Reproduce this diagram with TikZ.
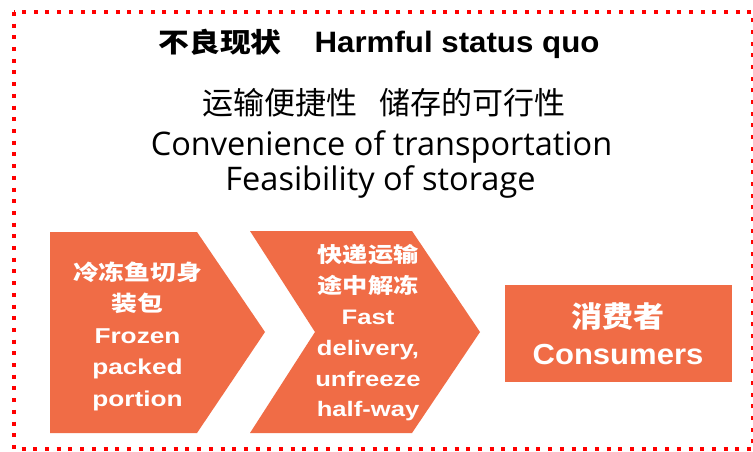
\documentclass[tikz,border=0pt]{standalone}
\usepackage{fontspec}
\setmainfont{Liberation Sans}
\newfontfamily\cjk{Noto Sans CJK SC}
\newfontfamily\cjktitle[FakeStretch=1.14]{Noto Sans CJK SC}
\newfontfamily\lattitle[FakeStretch=1.06]{Liberation Sans}
\newfontfamily\cjkwide[FakeStretch=1.2]{Noto Sans CJK SC}
\newfontfamily\latwide[FakeStretch=1.22]{Liberation Sans}
\newfontfamily\cjkcons[FakeStretch=1.07]{Noto Sans CJK SC}
\newfontfamily\latcons[FakeStretch=1.07]{Liberation Sans}
\newfontfamily\lat{Open Sans}
\definecolor{boxorange}{RGB}{240,108,70}
\definecolor{frame}{RGB}{255,0,0}
\tikzset{
  shapefill/.style={fill=boxorange},
  boxtext/.style={text=white, align=center, inner sep=0pt},
  head/.style={align=center, inner sep=0pt, anchor=base}
}
\begin{document}
\begin{tikzpicture}[x=1pt,y=-1pt]
\useasboundingbox (0,0) rectangle (753,452);
\fill[white] (0,0) rectangle (753,452);
% frame
\draw[frame, line width=4pt, dash pattern=on 4pt off 7.7pt] (14,12) rectangle (753,449);
% title
\node[head] (title) at (379,53) {\bfseries{\fontsize{27}{30}\selectfont\cjktitle 不良现状}\hspace{33pt}{\fontsize{29.5}{30}\selectfont\lattitle Harmful status quo}};
\node[head] (l1) at (384,114) {\fontsize{31}{32}\selectfont\cjk 运输便捷性\hspace{22pt}储存的可行性};
\node[head] (l2) at (381.5,155) {\fontsize{32.5}{34}\selectfont\lat Convenience of transportation};
\node[head] (l3) at (380.5,190) {\fontsize{32.5}{34}\selectfont\lat Feasibility of storage};
% shapes
\fill[shapefill] (50,232) -- (197,232) -- (265,332) -- (197,433) -- (50,433) -- cycle;
\fill[shapefill] (250,231) -- (412,231) -- (480,332) -- (412,433) -- (250,433) -- (315,332) -- cycle;
\fill[shapefill] (505,285) rectangle (732,382);
% texts
\node[boxtext, font=\fontsize{21.5}{31.5}\selectfont\bfseries] (t1) at (137.5,336) {\cjkwide 冷冻鱼切身\\\cjkwide 装包\\\latwide Frozen\\\latwide packed\\\latwide portion};
\node[boxtext, font=\fontsize{21}{30.8}\selectfont\bfseries] (t2) at (368,333) {\cjkwide 快递运输\\\cjkwide 途中解冻\\\latwide Fast\\\latwide delivery,\\\latwide unfreeze\\\latwide half-way};
\node[boxtext, font=\fontsize{29}{37}\selectfont\bfseries] (t3) at (618,334) {\cjkcons 消费者\\\latcons Consumers};
\end{tikzpicture}
\end{document}
